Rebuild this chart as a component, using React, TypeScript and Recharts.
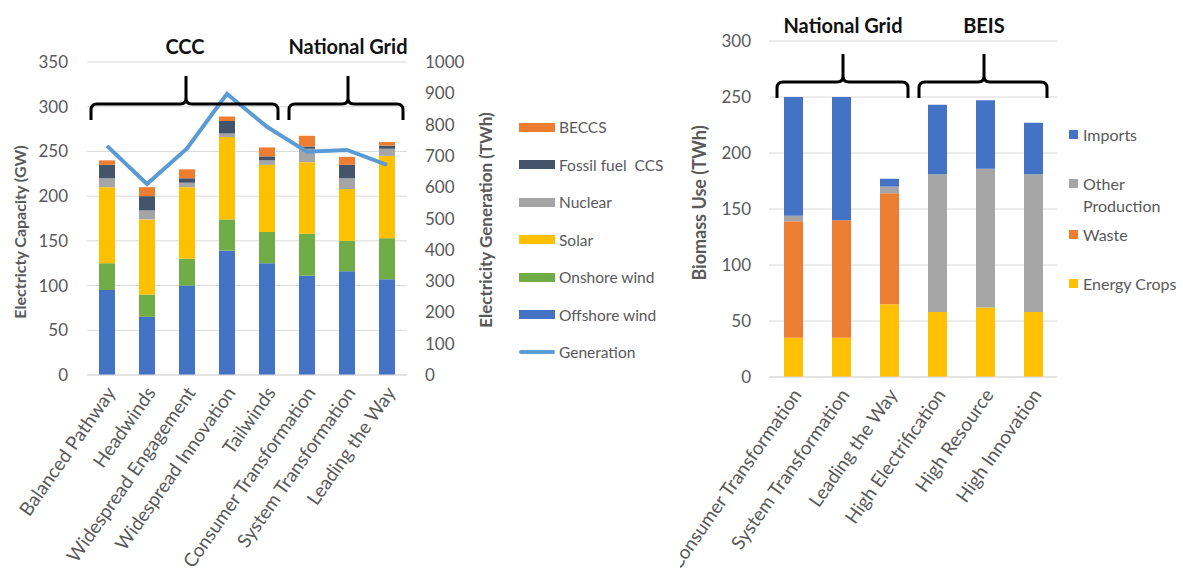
import React from "react";
import {
  ComposedChart,
  BarChart,
  Bar,
  Line,
  XAxis,
  YAxis,
  CartesianGrid,
} from "recharts";

// Electricity pathways (left panel)
const pathways = [
  "Balanced Pathway",
  "Headwinds",
  "Widespread Engagement",
  "Widespread Innovation",
  "Tailwinds",
  "Consumer Transformation",
  "System Transformation",
  "Leading the Way",
];
const offshoreWind = [95, 65, 100, 139, 125, 111, 116, 107];
const onshoreWind = [30, 25, 30, 35, 35, 47, 34, 46];
const solar = [85, 84, 80, 92, 75, 80, 58, 92];
const nuclear = [10, 10, 5, 4, 5, 15, 12, 8];
const fossilCcs = [15, 16, 5, 14, 4.5, 2.5, 15, 3.5];
const beccs = [5, 10, 10, 5, 10, 12, 9, 4];
const generation = [732, 610, 724, 898, 793, 713, 719, 671];
const capacityTicks = [0, 50, 100, 150, 200, 250, 300, 350];
const generationTicks = [0, 100, 200, 300, 400, 500, 600, 700, 800, 900, 1000];

// Biomass scenarios (right panel)
const biomassScenarios = [
  "Consumer Transformation",
  "System Transformation",
  "Leading the Way",
  "High Electrification",
  "High Resource",
  "High Innovation",
];
const energyCrops = [35, 35, 65, 58, 62, 58];
const waste = [104, 105, 99, 0, 0, 0];
const otherProduction = [5, 0, 6, 123, 124, 123];
const imports = [106, 110, 7, 62, 61, 46];
const biomassTicks = [0, 50, 100, 150, 200, 250, 300];

const FONT = "Lato, 'Open Sans', sans-serif";
const GREY = "#595959";
const GRID = "#d9d9d9";

const COLORS = {
  offshore: "#4472C4",
  onshore: "#70AD47",
  solar: "#FFC000",
  nuclear: "#A5A5A5",
  fossil: "#44546A",
  beccs: "#ED7D31",
  generation: "#5B9BD5",
};

const electricityData = pathways.map((name, i) => ({
  name,
  offshore: offshoreWind[i],
  onshore: onshoreWind[i],
  solar: solar[i],
  nuclear: nuclear[i],
  fossil: fossilCcs[i],
  beccs: beccs[i],
  generation: generation[i],
}));

const biomassData = biomassScenarios.map((name, i) => ({
  name,
  crops: energyCrops[i],
  waste: waste[i],
  other: otherProduction[i],
  imports: imports[i],
}));

const electricityLegend = [
  { label: "BECCS", color: COLORS.beccs, line: false },
  { label: "Fossil fuel  CCS", color: COLORS.fossil, line: false },
  { label: "Nuclear", color: COLORS.nuclear, line: false },
  { label: "Solar", color: COLORS.solar, line: false },
  { label: "Onshore wind", color: COLORS.onshore, line: false },
  { label: "Offshore wind", color: COLORS.offshore, line: false },
  { label: "Generation", color: COLORS.generation, line: true },
];

const biomassLegend = [
  { label: ["Imports"], color: COLORS.offshore, top: 134 },
  { label: ["Other", "Production"], color: COLORS.nuclear, top: 183 },
  { label: ["Waste"], color: COLORS.beccs, top: 234 },
  { label: ["Energy Crops"], color: COLORS.solar, top: 283 },
];

const SlantTick = (props: any) => {
  const { x, y, payload } = props;
  const ax = x + 4;
  const ay = y + 12;
  return (
    <text
      x={ax}
      y={ay}
      transform={`rotate(-55 ${ax} ${ay})`}
      textAnchor="end"
      dy="0.35em"
      fill={GREY}
      fontSize={19}
      fontFamily={FONT}
    >
      {payload.value}
    </text>
  );
};

const tickStyle = { fill: GREY, fontSize: 17, fontFamily: FONT };

// curly bracket over a group of scenarios
function brace(x1: number, x2: number, y: number, tip: number, cx: number) {
  const r = 6;
  const drop = 16;
  return (
    `M${x1},${y + drop} L${x1},${y + r} Q${x1},${y} ${x1 + r},${y} ` +
    `L${cx - r},${y} Q${cx},${y} ${cx},${y - r} L${cx},${tip} ` +
    `M${cx},${y - r} Q${cx},${y} ${cx + r},${y} ` +
    `L${x2 - r},${y} Q${x2},${y} ${x2},${y + r} L${x2},${y + drop}`
  );
}

export default function App() {
  return (
    <div
      style={{
        position: "absolute",
        left: 0,
        top: 0,
        width: 1183,
        height: 579,
        background: "#fff",
        fontFamily: FONT,
        overflow: "hidden",
      }}
    >
      {/* electricity capacity and generation */}
      <div style={{ position: "absolute", left: 0, top: 0 }}>
        <ComposedChart
          width={520}
          height={579}
          data={electricityData}
          margin={{ top: 62, right: 53, bottom: 0, left: 31 }}
        >
          <CartesianGrid yAxisId="cap" vertical={false} stroke={GRID} />
          <XAxis
            dataKey="name"
            interval={0}
            height={204}
            tick={<SlantTick />}
            tickLine={false}
            tickSize={0}
            axisLine={{ stroke: GRID }}
          />
          <YAxis
            yAxisId="cap"
            domain={[0, 350]}
            ticks={capacityTicks}
            width={56}
            axisLine={false}
            tickLine={false}
            tickSize={0}
            tickMargin={19}
            tick={tickStyle}
          />
          <YAxis
            yAxisId="gen"
            orientation="right"
            domain={[0, 1000]}
            ticks={generationTicks}
            width={60}
            axisLine={false}
            tickLine={false}
            tickSize={0}
            tickMargin={18}
            tick={{ ...tickStyle, textAnchor: "start" }}
          />
          <Bar yAxisId="cap" dataKey="offshore" stackId="s" fill={COLORS.offshore} barSize={16} isAnimationActive={false} />
          <Bar yAxisId="cap" dataKey="onshore" stackId="s" fill={COLORS.onshore} barSize={16} isAnimationActive={false} />
          <Bar yAxisId="cap" dataKey="solar" stackId="s" fill={COLORS.solar} barSize={16} isAnimationActive={false} />
          <Bar yAxisId="cap" dataKey="nuclear" stackId="s" fill={COLORS.nuclear} barSize={16} isAnimationActive={false} />
          <Bar yAxisId="cap" dataKey="fossil" stackId="s" fill={COLORS.fossil} barSize={16} isAnimationActive={false} />
          <Bar yAxisId="cap" dataKey="beccs" stackId="s" fill={COLORS.beccs} barSize={16} isAnimationActive={false} />
          <Line
            yAxisId="gen"
            type="linear"
            dataKey="generation"
            stroke={COLORS.generation}
            strokeWidth={4}
            dot={false}
            isAnimationActive={false}
          />
        </ComposedChart>
      </div>

      {/* biomass use */}
      <div style={{ position: "absolute", left: 680, top: 0 }}>
        <BarChart
          width={400}
          height={579}
          data={biomassData}
          margin={{ top: 41, right: 23, bottom: 0, left: 29 }}
        >
          <CartesianGrid vertical={false} stroke={GRID} />
          <XAxis
            dataKey="name"
            interval={0}
            height={202}
            tick={<SlantTick />}
            tickLine={false}
            tickSize={0}
            axisLine={{ stroke: GRID }}
          />
          <YAxis
            domain={[0, 300]}
            ticks={biomassTicks}
            width={60}
            axisLine={false}
            tickLine={false}
            tickSize={0}
            tickMargin={18}
            tick={tickStyle}
          />
          <Bar dataKey="crops" stackId="b" fill={COLORS.solar} barSize={19} isAnimationActive={false} />
          <Bar dataKey="waste" stackId="b" fill={COLORS.beccs} barSize={19} isAnimationActive={false} />
          <Bar dataKey="other" stackId="b" fill={COLORS.nuclear} barSize={19} isAnimationActive={false} />
          <Bar dataKey="imports" stackId="b" fill={COLORS.offshore} barSize={19} isAnimationActive={false} />
        </BarChart>
      </div>

      {/* axis titles, group brackets and headings */}
      <svg
        width={1183}
        height={579}
        style={{ position: "absolute", left: 0, top: 0, pointerEvents: "none" }}
      >
        <g fontFamily={FONT} fontWeight="bold" fill={GREY} textAnchor="middle">
          <text x={20} y={232} fontSize={16} transform="rotate(-90 20 232)" dy="0.35em">
            Electricty Capacity (GW)
          </text>
          <text x={486} y={220} fontSize={17} transform="rotate(-90 486 220)" dy="0.35em">
            Electricity Generation (TWh)
          </text>
          <text x={700} y={203} fontSize={18} transform="rotate(-90 700 203)" dy="0.35em">
            Biomass Use (TWh)
          </text>
        </g>
        <g fontFamily={FONT} fontWeight="bold" fill="#111" fontSize={20} textAnchor="middle">
          <text x={185} y={54}>CCC</text>
          <text x={348} y={54}>National Grid</text>
          <text x={843} y={33}>National Grid</text>
          <text x={984} y={33}>BEIS</text>
        </g>
        <g fill="none" stroke="#000" strokeWidth={3}>
          <path d={brace(91, 278, 104, 76, 186)} />
          <path d={brace(289, 403, 104, 76, 348)} />
          <path d={brace(777, 908, 82, 54, 843)} />
          <path d={brace(919, 1047, 82, 54, 984)} />
        </g>
      </svg>

      {/* legends */}
      {electricityLegend.map((item, i) => (
        <div
          key={item.label}
          style={{
            position: "absolute",
            left: 519,
            top: 127 + i * 37.5 - 10,
            height: 20,
            display: "flex",
            alignItems: "center",
            color: GREY,
            fontSize: 15.5,
            whiteSpace: "pre",
          }}
        >
          <span
            style={{
              display: "inline-block",
              width: 36,
              height: item.line ? 4 : 9,
              borderRadius: item.line ? 2 : 0,
              background: item.color,
              marginRight: 4,
            }}
          />
          {item.label}
        </div>
      ))}
      {biomassLegend.map((item) => (
        <div
          key={item.label.join(" ")}
          style={{
            position: "absolute",
            left: 1069,
            top: item.top - 10,
            color: GREY,
            fontSize: 16,
            lineHeight: "22px",
          }}
        >
          <span
            style={{
              display: "inline-block",
              width: 9,
              height: 9,
              background: item.color,
              marginRight: 5,
              verticalAlign: "middle",
              position: "relative",
              top: -2,
            }}
          />
          {item.label[0]}
          {item.label.length > 1 && (
            <div style={{ paddingLeft: 14 }}>{item.label[1]}</div>
          )}
        </div>
      ))}
    </div>
  );
}
